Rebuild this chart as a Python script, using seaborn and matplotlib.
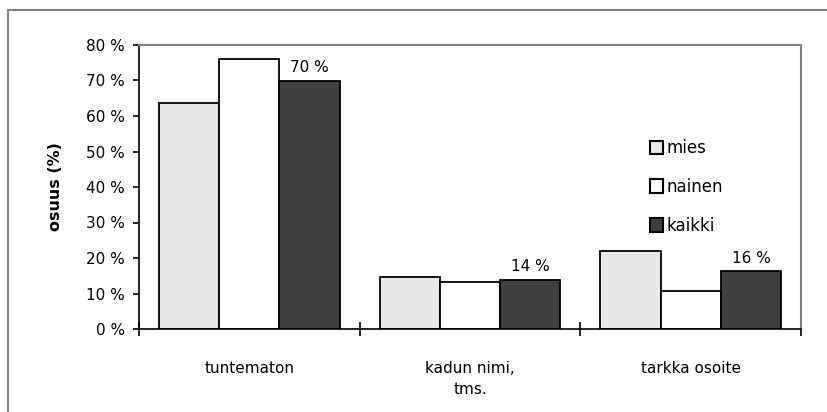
import matplotlib
matplotlib.use("Agg")
import matplotlib.pyplot as plt
import seaborn as sns
import pandas as pd
from matplotlib.lines import Line2D

categories = ["tuntematon", "kadun nimi,\ntms.", "tarkka osoite"]
groups = ["mies", "nainen", "kaikki"]
mies = [63.7, 14.6, 21.9]
nainen = [76.0, 13.2, 10.6]
kaikki = [69.9, 13.8, 16.2]
kaikki_labels = ["70 %", "14 %", "16 %"]
yticks = [0, 10, 20, 30, 40, 50, 60, 70, 80]
colors = ["#e8e8e8", "#ffffff", "#404040"]

rows = []
for g, vals in zip(groups, [mies, nainen, kaikki]):
    for c, v in zip(categories, vals):
        rows.append({"cat": c, "grp": g, "val": v})
df = pd.DataFrame(rows)

sns.set_theme(style="white")
plt.rcParams["font.family"] = ["DejaVu Sans"]
plt.rcParams["text.color"] = "black"
plt.rcParams["axes.labelcolor"] = "black"
plt.rcParams["xtick.color"] = "black"
plt.rcParams["ytick.color"] = "black"

FS = 11

fig = plt.figure(figsize=(8.27, 4.12), dpi=100)
ax = fig.add_axes([139/827, 83/412, 662/827, 284/412])

sns.barplot(data=df, x="cat", y="val", hue="grp", order=categories,
            hue_order=groups, palette=colors, edgecolor="black",
            linewidth=1.3, width=0.82, gap=0, errorbar=None, ax=ax)

ax.set_xlim(-0.5, 2.5)
ax.set_ylim(0, 80)
ax.set_yticks(yticks)
ax.set_yticklabels([f"{t} %" for t in yticks], fontsize=FS)
ax.tick_params(axis="y", direction="out", length=4, width=1.2, color="black", pad=6, left=True)

ax.set_xticks([-0.5, 0.5, 1.5, 2.5])
ax.set_xticklabels([])
ax.set_xticks([0, 1, 2], minor=True)
ax.set_xticklabels(categories, minor=True, fontsize=FS, linespacing=1.5, va="top")
ax.tick_params(axis="x", which="major", direction="inout", length=10, width=1.2, color="black", bottom=True)
ax.tick_params(axis="x", which="minor", length=0, pad=23)
ax.set_xlabel("")
ax.set_ylabel("osuus (%)", fontsize=FS + 0.5, fontweight="bold", labelpad=17)

for s in ["left", "bottom"]:
    ax.spines[s].set_color("black")
    ax.spines[s].set_linewidth(1.2)
for s in ["top", "right"]:
    ax.spines[s].set_color("#808080")
    ax.spines[s].set_linewidth(1.5)

ax.bar_label(ax.containers[2], labels=kaikki_labels, padding=4, fontsize=FS)

leg = ax.legend(frameon=False, loc="upper left", bbox_to_anchor=(650/827, 1-139/412),
                bbox_transform=fig.transFigure, fontsize=12, handlelength=0.75,
                handleheight=0.85, handletextpad=0.25, labelspacing=1.25,
                borderpad=0, borderaxespad=0)
for h in leg.legend_handles:
    h.set_linewidth(1.5)

fig.add_artist(Line2D([8/827, 8/827], [0, 1-10/412], color="#808080", lw=1.5, transform=fig.transFigure))
fig.add_artist(Line2D([8/827, 1], [1-10/412, 1-10/412], color="#808080", lw=1.5, transform=fig.transFigure))

fig.savefig("out.png", dpi=100)
